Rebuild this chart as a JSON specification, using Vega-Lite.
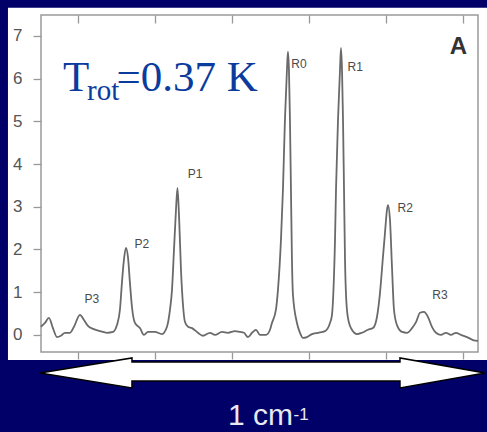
{
  "$schema": "https://vega.github.io/schema/vega-lite/v6.json",
  "width": 437,
  "height": 337,
  "autosize": {"type": "none"},
  "padding": {"left": 41, "top": 15, "right": 9, "bottom": 80},
  "background": "#000068",
  "config": {"view": {"stroke": null}},
  "datasets": {
    "spectrum": [
      {"x": -0.481, "y": 0.19}, {"x": -0.429, "y": 0.28}, {"x": -0.377, "y": 0.40}, {"x": -0.325, "y": 0.16},
      {"x": -0.273, "y": -0.05}, {"x": -0.221, "y": -0.02}, {"x": -0.169, "y": 0.05}, {"x": -0.104, "y": 0.05},
      {"x": -0.052, "y": 0.19}, {"x": 0.026, "y": 0.47}, {"x": 0.078, "y": 0.35}, {"x": 0.130, "y": 0.21},
      {"x": 0.195, "y": 0.14}, {"x": 0.286, "y": 0.09}, {"x": 0.377, "y": 0.05}, {"x": 0.455, "y": 0.07},
      {"x": 0.506, "y": 0.23}, {"x": 0.545, "y": 0.59}, {"x": 0.571, "y": 1.22}, {"x": 0.597, "y": 1.76},
      {"x": 0.623, "y": 2.04}, {"x": 0.649, "y": 1.83}, {"x": 0.675, "y": 1.22}, {"x": 0.701, "y": 0.66},
      {"x": 0.740, "y": 0.28}, {"x": 0.805, "y": 0.16}, {"x": 0.857, "y": 0.00}, {"x": 0.909, "y": 0.07},
      {"x": 1.000, "y": 0.07}, {"x": 1.091, "y": 0.02}, {"x": 1.156, "y": 0.19}, {"x": 1.195, "y": 0.59},
      {"x": 1.221, "y": 1.05}, {"x": 1.247, "y": 1.99}, {"x": 1.273, "y": 2.93}, {"x": 1.292, "y": 3.44},
      {"x": 1.312, "y": 2.81}, {"x": 1.338, "y": 1.52}, {"x": 1.364, "y": 0.70}, {"x": 1.390, "y": 0.30},
      {"x": 1.429, "y": 0.19}, {"x": 1.481, "y": 0.16}, {"x": 1.558, "y": 0.05}, {"x": 1.623, "y": -0.02},
      {"x": 1.714, "y": 0.05}, {"x": 1.779, "y": 0.00}, {"x": 1.870, "y": 0.07}, {"x": 1.948, "y": 0.05},
      {"x": 2.039, "y": 0.09}, {"x": 2.104, "y": 0.07}, {"x": 2.156, "y": 0.05}, {"x": 2.208, "y": -0.05},
      {"x": 2.260, "y": 0.05}, {"x": 2.312, "y": 0.12}, {"x": 2.364, "y": 0.00}, {"x": 2.442, "y": 0.00},
      {"x": 2.494, "y": 0.12}, {"x": 2.519, "y": 0.28}, {"x": 2.571, "y": 0.59}, {"x": 2.597, "y": 1.05},
      {"x": 2.636, "y": 2.22}, {"x": 2.662, "y": 3.40}, {"x": 2.688, "y": 5.04}, {"x": 2.714, "y": 6.21},
      {"x": 2.727, "y": 6.63}, {"x": 2.740, "y": 6.21}, {"x": 2.753, "y": 5.04}, {"x": 2.766, "y": 3.40},
      {"x": 2.779, "y": 1.76}, {"x": 2.792, "y": 0.94}, {"x": 2.844, "y": 0.28}, {"x": 2.883, "y": 0.05},
      {"x": 2.922, "y": -0.07}, {"x": 2.974, "y": -0.05}, {"x": 3.039, "y": 0.02}, {"x": 3.117, "y": 0.05},
      {"x": 3.208, "y": 0.09}, {"x": 3.273, "y": 0.28}, {"x": 3.299, "y": 0.47}, {"x": 3.318, "y": 1.05},
      {"x": 3.338, "y": 2.22}, {"x": 3.351, "y": 3.40}, {"x": 3.377, "y": 5.04}, {"x": 3.403, "y": 6.21},
      {"x": 3.416, "y": 6.72}, {"x": 3.429, "y": 6.21}, {"x": 3.442, "y": 5.04}, {"x": 3.455, "y": 3.40},
      {"x": 3.468, "y": 1.76}, {"x": 3.481, "y": 0.94}, {"x": 3.506, "y": 0.40}, {"x": 3.558, "y": 0.12},
      {"x": 3.623, "y": 0.02}, {"x": 3.688, "y": 0.05}, {"x": 3.766, "y": 0.12}, {"x": 3.831, "y": 0.16},
      {"x": 3.883, "y": 0.42}, {"x": 3.922, "y": 0.98}, {"x": 3.961, "y": 1.83}, {"x": 3.987, "y": 2.39},
      {"x": 4.013, "y": 2.93}, {"x": 4.026, "y": 3.04}, {"x": 4.052, "y": 2.69}, {"x": 4.078, "y": 1.59},
      {"x": 4.104, "y": 0.59}, {"x": 4.143, "y": 0.23}, {"x": 4.208, "y": 0.07}, {"x": 4.273, "y": 0.05},
      {"x": 4.338, "y": 0.16}, {"x": 4.390, "y": 0.30}, {"x": 4.442, "y": 0.52}, {"x": 4.494, "y": 0.54},
      {"x": 4.545, "y": 0.42}, {"x": 4.597, "y": 0.19}, {"x": 4.649, "y": 0.05}, {"x": 4.714, "y": 0.00},
      {"x": 4.779, "y": 0.05}, {"x": 4.844, "y": 0.00}, {"x": 4.909, "y": 0.05}, {"x": 4.974, "y": 0.00},
      {"x": 5.052, "y": -0.05}, {"x": 5.130, "y": -0.12}, {"x": 5.195, "y": -0.14}
    ],
    "peaks": [
      {"label": "P3", "x": 0.18, "y": 0.84},
      {"label": "P2", "x": 0.83, "y": 2.13},
      {"label": "P1", "x": 1.52, "y": 3.77},
      {"label": "R0", "x": 2.87, "y": 6.35},
      {"label": "R1", "x": 3.60, "y": 6.28},
      {"label": "R2", "x": 4.25, "y": 2.97},
      {"label": "R3", "x": 4.70, "y": 0.94}
    ]
  },
  "resolve": {"axis": {"x": "independent", "y": "independent"}},
  "layer": [
    {
      "data": {"values": [{}]},
      "mark": {"type": "rect", "fill": "white"},
      "encoding": {
        "x": {"datum": -0.909, "type": "quantitative", "scale": {"domain": [-0.48, 5.195], "nice": false, "zero": false}, "axis": null},
        "x2": {"datum": 5.6},
        "y": {"datum": -0.59, "type": "quantitative", "scale": {"domain": [-0.4, 7.49], "nice": false, "zero": false}, "axis": null},
        "y2": {"datum": 7.66}
      }
    },
    {
      "data": {"values": [{}]},
      "mark": {"type": "rect", "fill": null, "stroke": "#9a9a9a", "strokeWidth": 1.5},
      "encoding": {
        "x": {"datum": -0.48, "type": "quantitative", "axis": {"orient": "top", "values": [0, 1, 2, 3, 4, 5], "labels": false, "domain": false, "grid": false, "tickSize": -8, "tickColor": "#999999", "tickWidth": 1.3, "title": null, "zindex": 1}},
        "x2": {"datum": 5.195},
        "y": {"datum": -0.4, "type": "quantitative", "axis": null},
        "y2": {"datum": 7.49}
      }
    },
    {
      "data": {"name": "spectrum"},
      "mark": {"type": "line", "color": "#6a6a6a", "strokeWidth": 1.8, "interpolate": "monotone"},
      "encoding": {
        "x": {"field": "x", "type": "quantitative", "axis": {"orient": "bottom", "values": [0, 1, 2, 3, 4, 5], "labels": false, "domain": false, "grid": false, "tickSize": 7, "tickColor": "#999999", "tickWidth": 1.3, "title": null, "zindex": 1}},
        "y": {"field": "y", "type": "quantitative", "axis": {"orient": "left", "values": [0, 1, 2, 3, 4, 5, 6, 7], "domain": false, "grid": false, "tickSize": 8, "tickColor": "#999999", "tickWidth": 1.3, "labelPadding": 11, "labelFont": "Liberation Sans", "labelFontSize": 17, "labelColor": "#555555", "title": null, "zindex": 1}}
      }
    },
    {
      "data": {"name": "peaks"},
      "mark": {"type": "text", "font": "Liberation Sans", "fontSize": 12, "color": "#4a4a4a", "align": "center", "baseline": "middle"},
      "encoding": {
        "x": {"field": "x", "type": "quantitative", "axis": null},
        "y": {"field": "y", "type": "quantitative", "axis": null},
        "text": {"field": "label"}
      }
    },
    {
      "data": {"values": [{"t": "A", "x": 4.94, "y": 6.74}]},
      "mark": {"type": "text", "font": "Liberation Sans", "fontSize": 24, "fontWeight": "bold", "color": "#333333", "align": "center", "baseline": "middle"},
      "encoding": {
        "x": {"field": "x", "type": "quantitative", "axis": null},
        "y": {"field": "y", "type": "quantitative", "axis": null},
        "text": {"field": "t"}
      }
    },
    {
      "data": {"values": [{"t": "T", "x": -0.195, "y": 5.70}, {"t": "=0.37 K", "x": 0.50, "y": 5.70}]},
      "mark": {"type": "text", "font": "Liberation Serif", "fontSize": 43, "color": "#0b3b9c", "align": "left", "baseline": "alphabetic"},
      "encoding": {
        "x": {"field": "x", "type": "quantitative", "axis": null},
        "y": {"field": "y", "type": "quantitative", "axis": null},
        "text": {"field": "t"}
      }
    },
    {
      "data": {"values": [{"t": "rot", "x": 0.117, "y": 5.50}]},
      "mark": {"type": "text", "font": "Liberation Serif", "fontSize": 29, "color": "#0b3b9c", "align": "left", "baseline": "alphabetic"},
      "encoding": {
        "x": {"field": "x", "type": "quantitative", "axis": null},
        "y": {"field": "y", "type": "quantitative", "axis": null},
        "text": {"field": "t"}
      }
    },
    {
      "data": {"values": [{"x": 2.396, "y": -0.89}]},
      "mark": {
        "type": "point",
        "filled": true,
        "fill": "white",
        "stroke": "black",
        "strokeWidth": 1.5,
        "opacity": 1,
        "fillOpacity": 1,
        "size": 198025,
        "shape": "M-1,0L-0.5865,-0.0674L-0.5865,-0.0494L0.618,-0.0494L0.618,-0.0674L1,0L0.618,0.0674L0.618,0.036L-0.5865,0.036L-0.5865,0.0674Z"
      },
      "encoding": {
        "x": {"field": "x", "type": "quantitative", "axis": null},
        "y": {"field": "y", "type": "quantitative", "axis": null}
      }
    },
    {
      "data": {"values": [{"t": "1 cm", "x": 1.948, "y": -2.25}]},
      "mark": {"type": "text", "font": "Liberation Sans", "fontSize": 30, "color": "#e8e8f0", "align": "left", "baseline": "bottom"},
      "encoding": {
        "x": {"field": "x", "type": "quantitative", "axis": null},
        "y": {"field": "y", "type": "quantitative", "axis": null},
        "text": {"field": "t"}
      }
    },
    {
      "data": {"values": [{"t": "-1", "x": 2.80, "y": -1.99}]},
      "mark": {"type": "text", "font": "Liberation Sans", "fontSize": 17, "color": "#e8e8f0", "align": "left", "baseline": "alphabetic"},
      "encoding": {
        "x": {"field": "x", "type": "quantitative", "axis": null},
        "y": {"field": "y", "type": "quantitative", "axis": null},
        "text": {"field": "t"}
      }
    }
  ]
}
